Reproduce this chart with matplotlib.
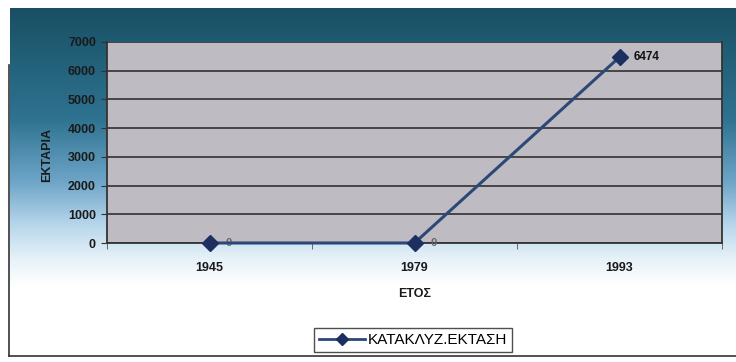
import numpy as np
import matplotlib
matplotlib.use("Agg")
import matplotlib.pyplot as plt
from matplotlib.colors import LinearSegmentedColormap
from matplotlib.lines import Line2D

plt.rcParams['font.family'] = ['Liberation Sans', 'DejaVu Sans']

years = ["1945", "1979", "1993"]
area = [0, 0, 6474]
y_ticks = [0, 1000, 2000, 3000, 4000, 5000, 6000, 7000]
series_name = "ΚΑΤΑΚΛΥΖ.ΕΚΤΑΣΗ"

W, H = 736, 362
fig = plt.figure(figsize=(W / 100, H / 100), dpi=100)
fig.patch.set_facecolor("white")

def fx(px):
    return px / W

def fy(py):
    return 1 - py / H

# background panel with teal-to-white vertical gradient
bg = fig.add_axes([fx(10), fy(356), fx(736) - fx(10), fy(8) - fy(356)])
bg.set_axis_off()
cmap = LinearSegmentedColormap.from_list(
    "panel",
    [(0.0, "#1a4f63"), (0.10, "#1f5b72"), (0.32, "#2f7391"),
     (0.50, "#6ea5c8"), (0.62, "#b5d5ea"), (0.72, "#e6f1f8"),
     (0.80, "#ffffff"), (1.0, "#ffffff")])
grad = np.linspace(0, 1, 256).reshape(-1, 1)
bg.imshow(grad, aspect="auto", cmap=cmap, extent=[0, 1, 0, 1], origin="upper")
bg.set_xlim(0, 1)
bg.set_ylim(0, 1)

# page border lines
fig.add_artist(Line2D([fx(9), fx(9)], [fy(65), fy(356)], color="#333333", lw=1.2))
fig.add_artist(Line2D([fx(9), fx(736)], [fy(356), fy(356)], color="#333333", lw=1.2))

ax = fig.add_axes([fx(107), fy(243), fx(722) - fx(107), fy(42) - fy(243)])
ax.set_facecolor("#bebcc2")
x = np.arange(len(years))
ax.set_xlim(-0.5, len(years) - 0.5)
ax.set_ylim(0, 7000)

ax.set_yticks(y_ticks)
ax.set_yticklabels([str(v) for v in y_ticks], fontsize=9, fontweight="bold", color="#1a1a1a")
ax.yaxis.grid(True, color="#3c3c3c", lw=1.3)
ax.set_axisbelow(True)

ax.set_xticks(x)
ax.set_xticklabels(years, fontsize=9, fontweight="bold", color="#1a1a1a")
ax.set_xticks(np.arange(len(years) + 1) - 0.5, minor=True)
ax.tick_params(axis="x", which="major", length=0, pad=14)
ax.tick_params(axis="x", which="minor", length=4, color="#555555", direction="out")
ax.tick_params(axis="y", length=4, color="#333333", pad=4)

for side in ("left", "right", "bottom"):
    ax.spines[side].set_color("#333333")
    ax.spines[side].set_linewidth(1.3)
ax.spines["top"].set_visible(False)

ax.plot(x, area, color="#2d4877", lw=2.2, marker="D", markersize=8,
        markerfacecolor="#1d2f60", markeredgecolor="#1d2f60", clip_on=False, zorder=5)

for xi, v in zip(x, area):
    if v == 0:
        ax.annotate(str(v), (xi, v), xytext=(14, 0), textcoords="offset points",
                    ha="center", va="center", fontsize=8, color="#666666", fontweight="bold")
    else:
        ax.annotate(str(v), (xi, v), xytext=(10, 0), textcoords="offset points",
                    ha="left", va="center", fontsize=8.5, color="#111111", fontweight="bold")

ax.set_ylabel("ΕΚΤΑΡΙΑ", fontsize=9, fontweight="bold", color="#1a1a1a")
ax.yaxis.set_label_coords(-0.088, 0.44)
ax.set_xlabel("ΕΤΟΣ", fontsize=9, fontweight="bold", color="#1a1a1a", labelpad=10)

handle = Line2D([], [], color="#2d4877", lw=2, marker="D", markersize=6,
                markerfacecolor="#1d2f60", markeredgecolor="#1d2f60")
leg = fig.legend([handle], [series_name], loc="center",
                 bbox_to_anchor=(fx(413), fy(340)), frameon=True, fancybox=False,
                 fontsize=11, handlelength=3.0, handletextpad=0.2,
                 borderpad=0.35, edgecolor="#222222")
leg.get_frame().set_linewidth(1.0)

fig.savefig("out.png", dpi=100, facecolor=fig.get_facecolor())
